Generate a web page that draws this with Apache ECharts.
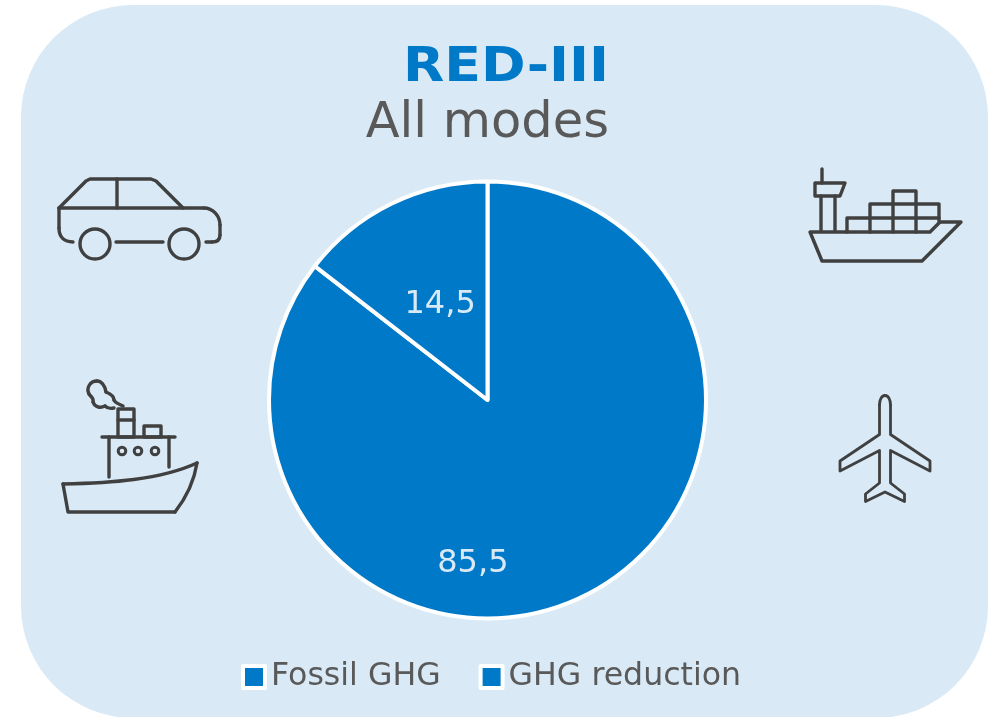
<!DOCTYPE html>
<html><head><meta charset="utf-8">
<style>html,body{margin:0;padding:0;background:#fff}#c{width:995px;height:717px}</style>
<script src="https://cdn.jsdelivr.net/npm/echarts@6/dist/echarts.min.js"></script>
</head><body><div id="c"></div>
<script>
const categories = ['Fossil GHG', 'GHG reduction'];
const values = [85.5, 14.5];
const titleMain = 'RED-III';
const titleSub = 'All modes';

const INK = '#404040', BLUE = '#0079C8', BG = '#D9EAF6', TXT = '#595959';
const FONT = '"DejaVu Sans", Verdana, sans-serif';
const st = (w) => ({ fill: 'none', stroke: INK, lineWidth: w || 3.4, lineCap: 'round', lineJoin: 'round' });
const poly = (pts, w) => ({ type: 'polyline', shape: { points: pts }, style: st(w), z: 2 });
const closed = (pts, w) => ({ type: 'polygon', shape: { points: pts }, style: st(w), z: 2 });
const curve = (x1, y1, cx1, cy1, cx2, cy2, x2, y2, w) => ({ type: 'bezierCurve', shape: { x1, y1, cpx1: cx1, cpy1: cy1, cpx2: cx2, cpy2: cy2, x2, y2 }, style: st(w), z: 2 });
const ring = (cx, cy, r, w) => ({ type: 'circle', shape: { cx, cy, r }, style: st(w), z: 2 });

const car = [
  poly([[59, 208], [86, 181], [90, 179], [151, 179], [156, 181], [183, 208]]),
  poly([[59, 208], [204, 208]]),
  curve(204, 208, 213, 208, 220, 216, 220, 225),
  poly([[220, 225], [220, 235]]),
  curve(220, 235, 220, 240, 217, 242, 212, 242),
  poly([[212, 242], [206, 242]]),
  poly([[59, 208], [59, 228]]),
  curve(59, 228, 59, 237, 64, 242, 73, 242),
  poly([[117, 179], [117, 208]]),
  poly([[116, 242], [163, 242]]),
  ring(95, 244, 15), ring(184, 244, 15)
];

const boat = [
  curve(123, 406, 119, 404, 115, 403, 114, 400),
  curve(114, 400, 114, 396, 111, 394, 106, 392),
  curve(106, 392, 105, 385, 101, 381, 97, 381),
  curve(97, 381, 90, 381, 86, 388, 89, 394),
  curve(89, 394, 91, 397, 94, 398, 93, 402),
  curve(93, 402, 95, 408, 101, 408, 105, 406),
  curve(105, 406, 107, 408, 110, 409, 114, 408),
  closed([[118, 409], [134, 409], [134, 437], [118, 437]]),
  poly([[118, 420], [134, 420]]),
  closed([[144, 426], [161, 426], [161, 437], [144, 437]]),
  poly([[102, 437], [175, 437]]),
  poly([[109, 437], [109, 477]]),
  poly([[169, 437], [169, 467]]),
  ring(122, 451, 3.8, 3), ring(138, 451, 3.8, 3), ring(155, 451, 3.8, 3),
  curve(63, 484, 110, 483, 160, 480, 197, 463),
  poly([[63, 484], [68, 512], [175, 512]]),
  curve(175, 512, 186, 498, 194, 482, 197, 463)
];

const ship = [
  poly([[822, 169], [822, 183]]),
  closed([[815, 183], [845, 183], [840, 196], [815, 196]]),
  poly([[821, 196], [821, 231]]),
  poly([[835, 196], [835, 231]]),
  closed([[810, 232], [930, 232], [940, 222], [961, 222], [922, 261], [822, 261]]),
  poly([[847, 232], [847, 218], [939, 218]]),
  poly([[870, 232], [870, 204], [939, 204], [939, 222]]),
  poly([[893, 232], [893, 191], [916, 191], [916, 232]])
];

const plane = [
  poly([[879.5, 405], [879.5, 434.5], [840, 461], [840, 471], [879.5, 450.5], [879.5, 483], [865.5, 494], [865.5, 501.5], [885, 492], [904.5, 501.5], [904.5, 494], [890.5, 483], [890.5, 450.5], [930, 471], [930, 461], [890.5, 434.5], [890.5, 405]], 2.8),
  curve(879.5, 405, 879.5, 399, 882, 395.5, 885, 395.5, 2.8),
  curve(885, 395.5, 888, 395.5, 890.5, 399, 890.5, 405, 2.8)
];

const text = (s, x, y, size, color, weight, sx) => ({
  type: 'text', x, y, z: 3, scaleX: sx || 1,
  style: { text: s, fill: color, align: 'right', verticalAlign: 'middle', font: (weight || 'normal') + ' ' + size + 'px ' + FONT }
});

const chart = echarts.init(document.getElementById('c'), null, { renderer: 'canvas' });
chart.setOption({
  animation: false,
  backgroundColor: '#fff',
  graphic: [
    { type: 'rect', z: 0, shape: { x: 21, y: 5, width: 967, height: 713, r: 112 }, style: { fill: BG } },
    text(titleMain, 609, 69, 48, BLUE, 'bold', 1.12),
    text(titleSub, 609, 124, 49.5, TXT),
    ...car, ...boat, ...ship, ...plane
  ],
  legend: {
    top: 661, left: 241, padding: 0, itemGap: 38, itemWidth: 22, itemHeight: 22, icon: 'rect',
    data: categories,
    textStyle: { color: TXT, fontSize: 31.6, fontFamily: FONT, padding: [0, 0, 0, 1] },
    itemStyle: { borderColor: '#fff', borderWidth: 4 }
  },
  series: [{
    type: 'pie', center: [487.5, 400], radius: [0, 218.5], startAngle: 90, clockwise: true,
    silent: true,
    itemStyle: { color: BLUE, borderColor: '#fff', borderWidth: 4 },
    labelLine: { show: false },
    label: {
      show: true, position: 'inside', color: '#D9EAF6', fontSize: 32, fontFamily: FONT,
      formatter: p => String(p.value).replace('.', ',')
    },
    data: categories.map((name, i) => ({
      name, value: values[i],
      label: i === 0 ? { offset: [-64, 63] } : { offset: [2, 5] }
    }))
  }]
});
</script></body></html>
